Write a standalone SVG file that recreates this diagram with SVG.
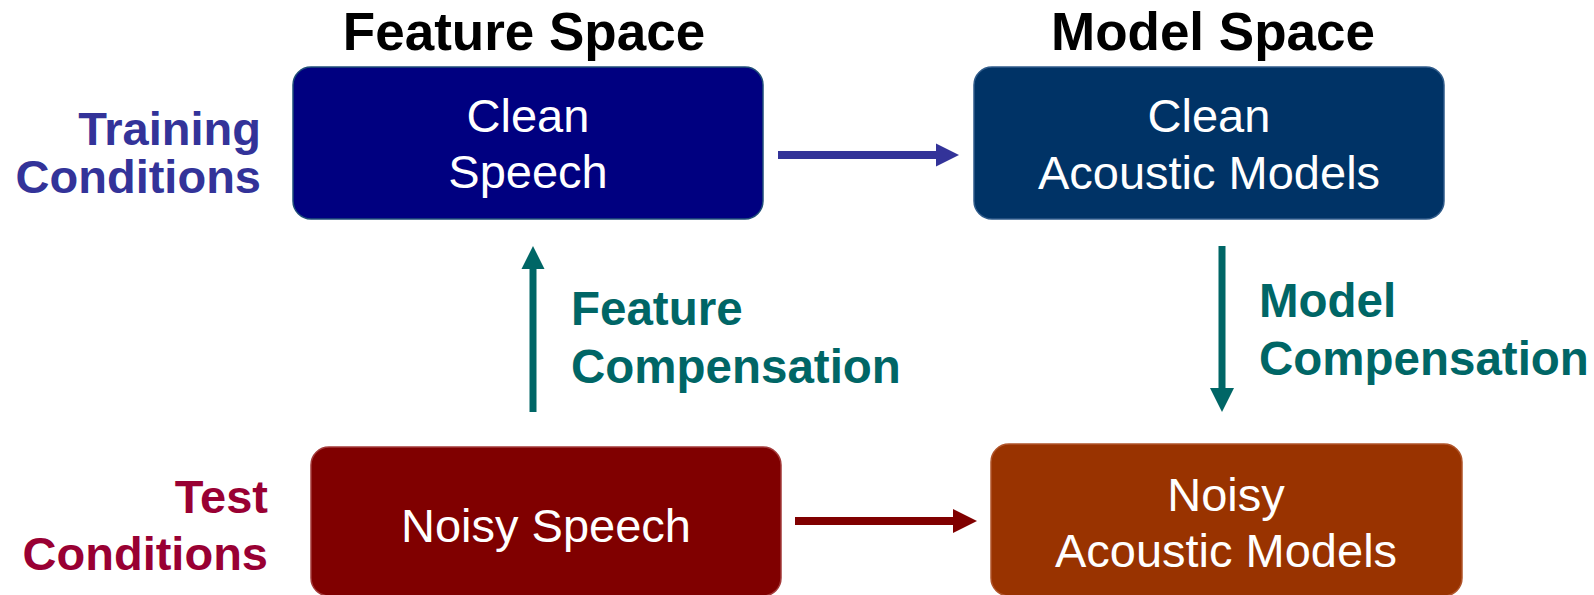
<svg xmlns="http://www.w3.org/2000/svg" width="1594" height="595" viewBox="0 0 1594 595">
  <defs>
    <style>
      .box-text { font-family: "Liberation Sans", Arial, sans-serif; font-size: 47px; fill: #ffffff; text-anchor: middle; }
      .title { font-family: "Liberation Sans", Arial, sans-serif; font-size: 53px; font-weight: bold; fill: #000000; text-anchor: middle; }
      .label { font-family: "Liberation Sans", Arial, sans-serif; font-size: 47px; font-weight: bold; }
      .comp-label { font-size: 47.5px; }
      .train { fill: #333399; text-anchor: end; }
      .test { fill: #990033; text-anchor: end; }
      .comp { fill: #006666; text-anchor: start; }
      .node { stroke-width: 1.5; }
    </style>
  </defs>

  <rect width="1594" height="595" fill="#ffffff"/>

  <!-- column headings -->
  <text class="title" x="524" y="50">Feature Space</text>
  <text class="title" x="1213" y="50">Model Space</text>

  <!-- row labels -->
  <text class="label train" x="261" y="145">Training</text>
  <text class="label train" x="261" y="193">Conditions</text>
  <text class="label test" x="268" y="513">Test</text>
  <text class="label test" x="268" y="570">Conditions</text>

  <!-- compensation labels -->
  <text class="label comp comp-label" x="571" y="325">Feature</text>
  <text class="label comp comp-label" x="571" y="383">Compensation</text>
  <text class="label comp comp-label" x="1259" y="317">Model</text>
  <text class="label comp comp-label" x="1259" y="375">Compensation</text>

  <g id="clean-speech">
    <rect class="node" x="293" y="67" width="470" height="152" rx="18" fill="#000080" stroke="#1f4e79"/>
    <text class="box-text" x="528" y="132">Clean</text>
    <text class="box-text" x="528" y="188">Speech</text>
  </g>

  <g id="clean-models">
    <rect class="node" x="974" y="67" width="470" height="152" rx="18" fill="#003366" stroke="#2f5b8a"/>
    <text class="box-text" x="1209" y="132">Clean</text>
    <text class="box-text" x="1209" y="189">Acoustic Models</text>
  </g>

  <g id="noisy-speech">
    <rect class="node" x="311" y="447" width="470" height="149" rx="18" fill="#800000" stroke="#a33a3a"/>
    <text class="box-text" x="546" y="542">Noisy Speech</text>
  </g>

  <g id="noisy-models">
    <rect class="node" x="991" y="444" width="471" height="152" rx="18" fill="#993300" stroke="#b0542a"/>
    <text class="box-text" x="1226" y="511">Noisy</text>
    <text class="box-text" x="1226" y="567">Acoustic Models</text>
  </g>

  <g id="connectors">
    <!-- clean speech to clean models -->
    <rect x="778" y="151" width="160" height="8" fill="#333399"/>
    <polygon points="936,143.5 959,155 936,166.5" fill="#333399"/>
    <!-- noisy speech to noisy models -->
    <rect x="795" y="517" width="160" height="8" fill="#800000"/>
    <polygon points="953,509 977,521 953,533" fill="#800000"/>
    <!-- feature compensation (upward) -->
    <rect x="529.5" y="267" width="7" height="145" fill="#006666"/>
    <polygon points="521.5,269 533,246 544.5,269" fill="#006666"/>
    <!-- model compensation (downward) -->
    <rect x="1218.5" y="246" width="7" height="144" fill="#006666"/>
    <polygon points="1210,388 1222,412 1234,388" fill="#006666"/>
  </g>
</svg>
